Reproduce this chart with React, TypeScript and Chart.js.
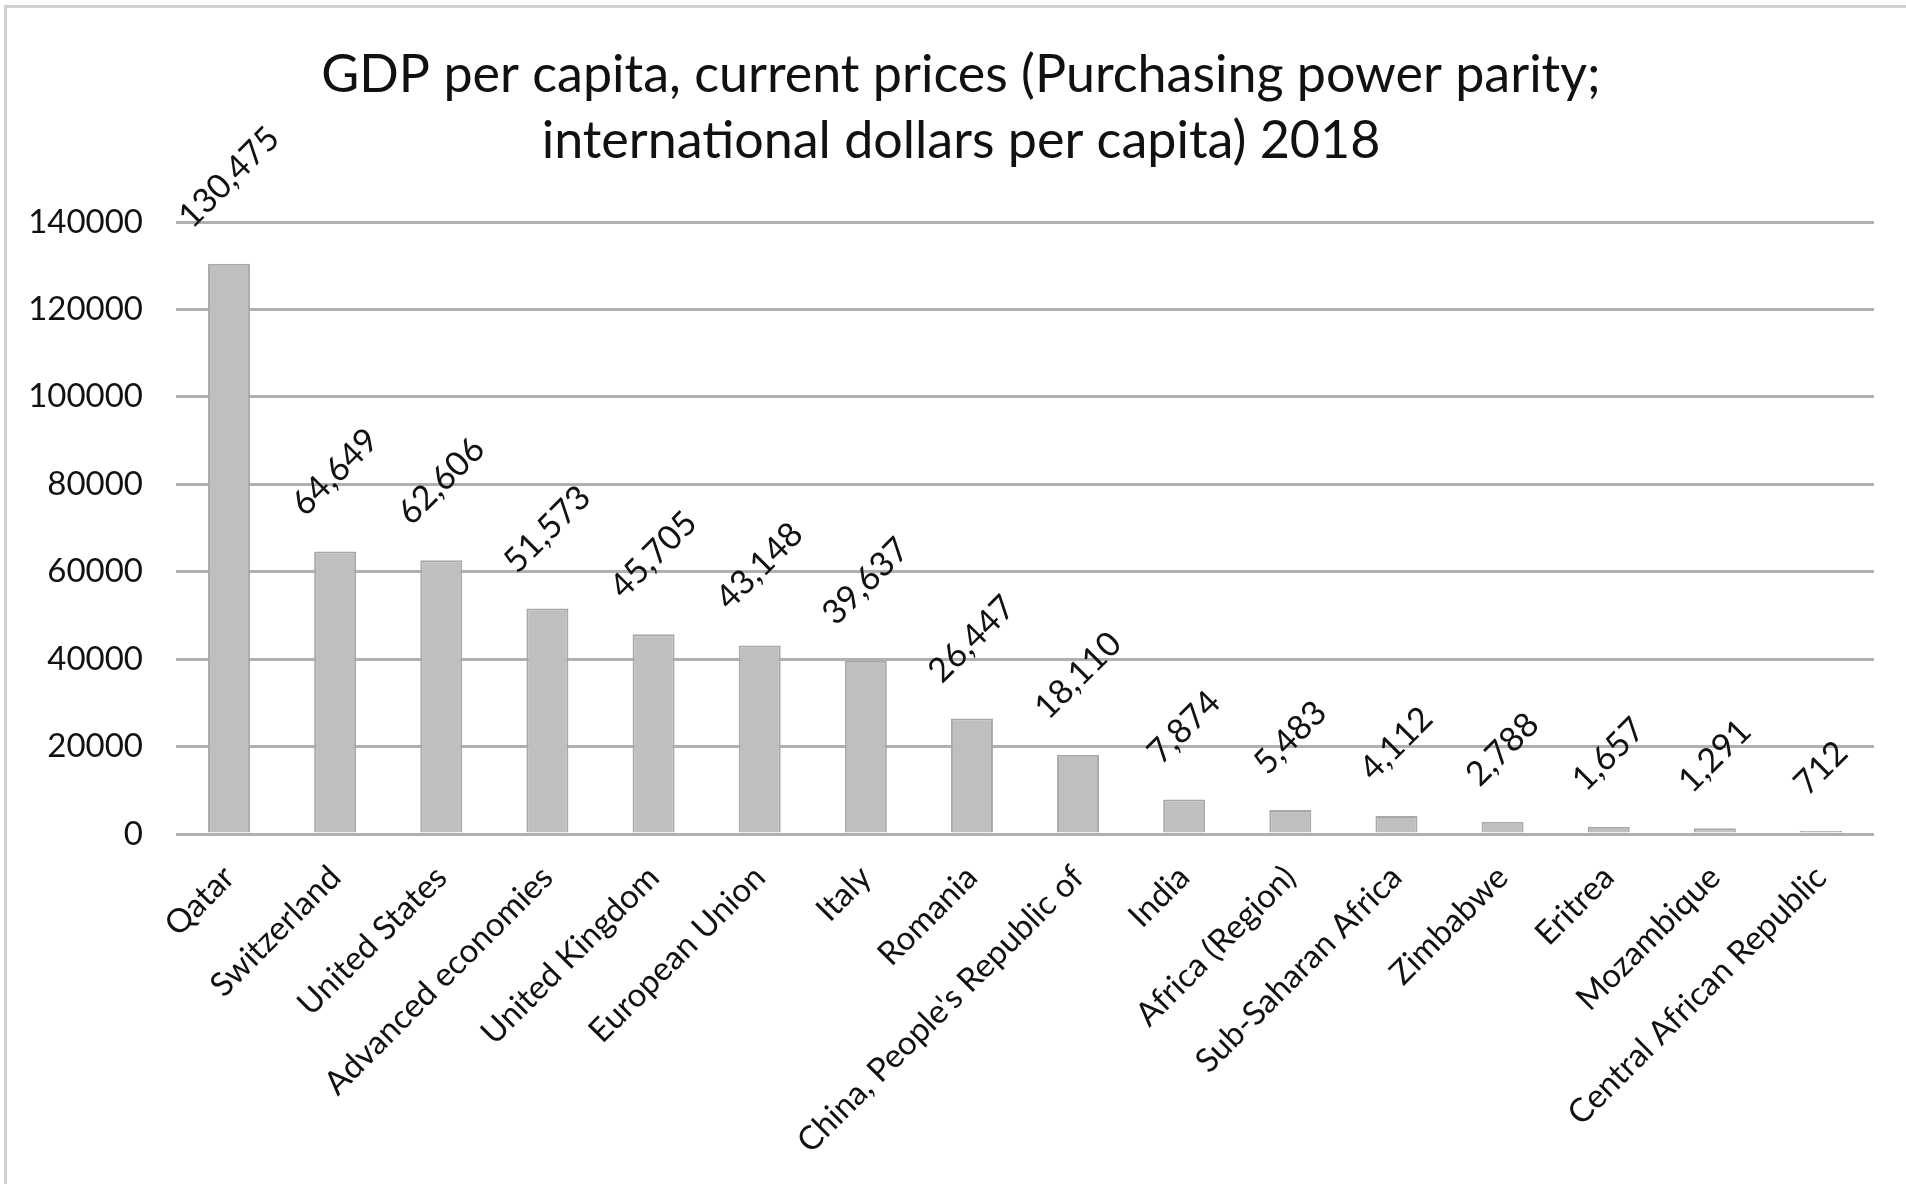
import React, { useEffect, useRef } from "react";
import { Chart, registerables } from "chart.js";

Chart.register(...registerables);

const categories = [
  "Qatar",
  "Switzerland",
  "United States",
  "Advanced economies",
  "United Kingdom",
  "European Union",
  "Italy",
  "Romania",
  "China, People's Republic of",
  "India",
  "Africa (Region)",
  "Sub-Saharan Africa",
  "Zimbabwe",
  "Eritrea",
  "Mozambique",
  "Central African Republic",
];

const gdpValues = [
  130475, 64649, 62606, 51573, 45705, 43148, 39637, 26447, 18110, 7874, 5483,
  4112, 2788, 1657, 1291, 712,
];

const yMin = 0;
const yMax = 140000;
const yStep = 20000;

const titleLines = [
  "GDP per capita, current prices (Purchasing power parity;",
  "international dollars per capita) 2018",
];

const FONT = "Lato, 'Open Sans', sans-serif";
const TICK_SIZE = 33;
const LABEL_SIZE = 34;
const LABEL_GAP = 33;
const TITLE_SIZE = 52;

const dataLabelPlugin = {
  id: "rotatedDataLabels",
  afterDatasetsDraw(chart: any) {
    const ctx = chart.ctx;
    const meta = chart.getDatasetMeta(0);
    ctx.save();
    ctx.font = `${LABEL_SIZE}px ${FONT}`;
    ctx.fillStyle = "#111";
    ctx.textAlign = "center";
    ctx.textBaseline = "middle";
    meta.data.forEach((bar: any, i: number) => {
      const txt = gdpValues[i].toLocaleString("en-US");
      const w = ctx.measureText(txt).width;
      const h = LABEL_SIZE * 0.72;
      const cy = bar.y - LABEL_GAP - ((w + h) * Math.SQRT1_2) / 2;
      ctx.save();
      ctx.translate(bar.x, cy);
      ctx.rotate(-Math.PI / 4);
      ctx.fillText(txt, 0, 0);
      ctx.restore();
    });
    ctx.restore();
  },
};

const titlePlugin = {
  id: "centredTitle",
  afterDraw(chart: any) {
    const ctx = chart.ctx;
    ctx.save();
    ctx.font = `${TITLE_SIZE}px ${FONT}`;
    ctx.fillStyle = "#111";
    ctx.textAlign = "center";
    ctx.textBaseline = "middle";
    titleLines.forEach((line, i) => {
      ctx.fillText(line, 961, 75 + i * 66);
    });
    ctx.restore();
  },
};

const framePlugin = {
  id: "frame",
  beforeDraw(chart: any) {
    const ctx = chart.ctx;
    const W = chart.width;
    const H = chart.height;
    ctx.save();
    ctx.fillStyle = "#ffffff";
    ctx.fillRect(0, 0, W, H);
    ctx.strokeStyle = "#cfcfcf";
    ctx.lineWidth = 3;
    ctx.beginPath();
    ctx.moveTo(5.5, H);
    ctx.lineTo(5.5, 6.5);
    ctx.lineTo(W, 6.5);
    ctx.stroke();
    ctx.restore();
  },
};

export default function App() {
  const canvasRef = useRef<HTMLCanvasElement | null>(null);

  useEffect(() => {
    const canvas = canvasRef.current;
    if (!canvas) return;
    const chart = new Chart(canvas, {
      type: "bar",
      data: {
        labels: categories,
        datasets: [
          {
            data: gdpValues,
            backgroundColor: "#bfbfbf",
            borderColor: "#a8a8a8",
            borderWidth: 2,
            barPercentage: 0.396,
            categoryPercentage: 1,
          },
        ],
      },
      options: {
        responsive: false,
        animation: false,
        devicePixelRatio: 1,
        layout: { padding: { left: 0, right: 32, top: 222, bottom: 0 } },
        plugins: {
          legend: { display: false },
          tooltip: { enabled: false },
          title: { display: false },
        },
        scales: {
          x: {
            grid: { display: false },
            border: { display: false },
            ticks: {
              autoSkip: false,
              minRotation: 45,
              maxRotation: 45,
              color: "#111",
              font: { family: FONT, size: TICK_SIZE },
              padding: 16,
            },
            afterFit: (s: any) => {
              s.height = 350;
            },
          },
          y: {
            min: yMin,
            max: yMax,
            border: { display: false },
            grid: { color: "#b0b0b0", lineWidth: 3, drawTicks: false },
            ticks: {
              stepSize: yStep,
              color: "#111",
              font: { family: FONT, size: TICK_SIZE },
              padding: 33,
              callback: (v: any) => String(v),
            },
            afterFit: (s: any) => {
              s.width = 176;
            },
          },
        },
      },
      plugins: [framePlugin, dataLabelPlugin, titlePlugin],
    });
    return () => chart.destroy();
  }, []);

  return (
    <div style={{ position: "absolute", left: 0, top: 0, width: 1906, height: 1184 }}>
      <canvas ref={canvasRef} width={1906} height={1184} style={{ display: "block" }} />
    </div>
  );
}
